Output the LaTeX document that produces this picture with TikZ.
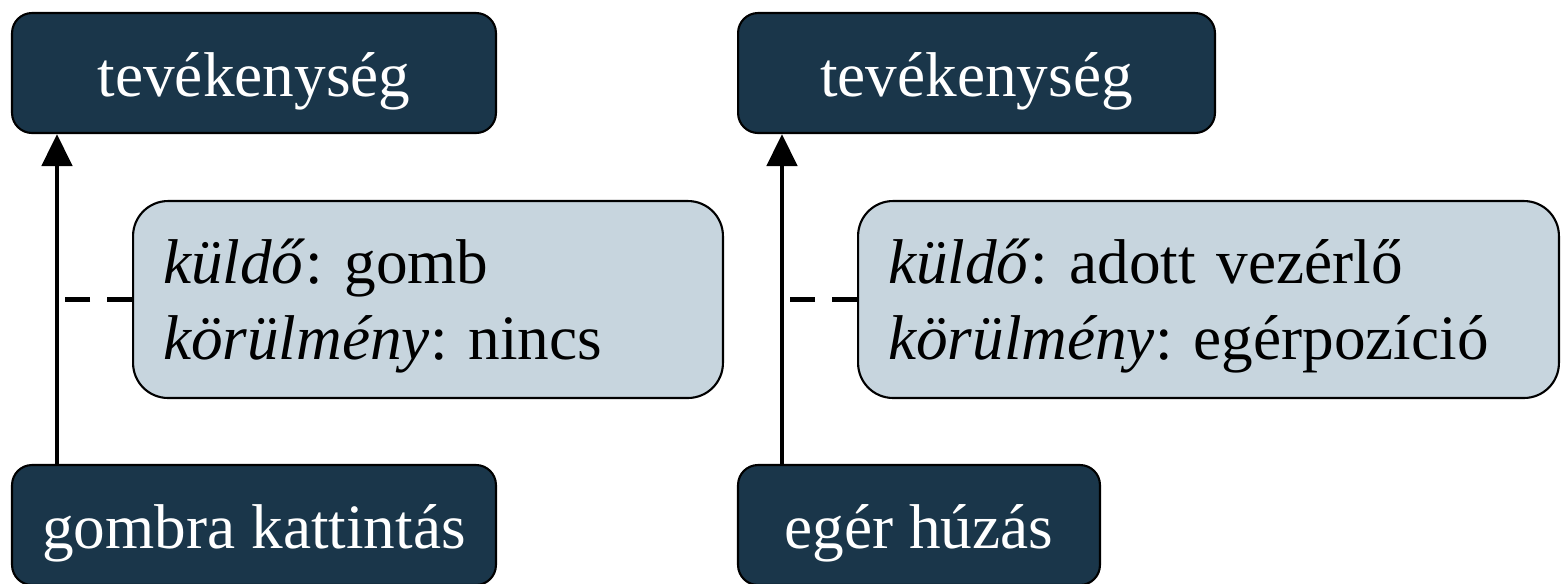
\documentclass[tikz,border=0pt]{standalone}
\usepackage{fontspec}
\setmainfont{Liberation Serif}
\usetikzlibrary{arrows.meta}
\definecolor{boxdark}{RGB}{26,54,74}
\definecolor{boxlight}{RGB}{199,213,222}
\tikzset{
  event/.style={draw=black,line width=1.2pt,fill=boxdark,text=white,
    rounded corners=0.4cm,minimum height=2.4cm,inner sep=0pt,
    text height=1.2cm,text depth=0.28cm},
  info/.style={draw=black,line width=1.2pt,fill=boxlight,
    text height=0.9cm,text depth=1.56cm,
    rounded corners=0.7cm,minimum height=3.94cm,align=left,inner xsep=0.6cm},
  flow/.style={line width=2.8pt,-{Triangle[length=0.64cm,width=0.6cm]}},
  hint/.style={line width=2.8pt,dash pattern=on 0.5cm off 0.34cm}
}

\begin{document}
\frenchspacing
\begin{tikzpicture}[x=0.02cm,y=-0.02cm,
    every node/.style={font=\fontsize{36}{43.8}\selectfont}]
        \useasboundingbox (0,0) rectangle (1561,583);

        % left: button click
        \node[event,minimum width=9.68cm] (act1) at (254,73) {tevékenység};
        \node[event,minimum width=9.68cm] (click) at (254,525) {gombra kattintás};
        \node[info,minimum width=11.8cm,text width=10.6cm] (info1) at (428,299.5)
            {\textit{küldő}: gomb\\\textit{körülmény}: nincs};
        \coordinate (lane1) at ([xshift=0.92cm]act1.south west);
        \draw[flow] (click.north -| lane1) -- (lane1);
        \draw[hint] (info1.west) -- (info1.west -| lane1);

        % right: mouse drag
        \node[event,minimum width=9.54cm] (act2) at (976.5,73) {tevékenység};
        \node[event,minimum width=7.24cm] (drag) at (919,525) {egér húzás};
        \node[info,minimum width=14.02cm,text width=12.82cm] (info2) at (1208.5,299.5)
            {\textit{küldő}: adott vezérlő\\\textit{körülmény}: egérpozíció};
        \coordinate (lane2) at ([xshift=0.9cm]act2.south west);
        \draw[flow] (drag.north -| lane2) -- (lane2);
        \draw[hint] (info2.west) -- (info2.west -| lane2);
    \end{tikzpicture}
\end{document}
